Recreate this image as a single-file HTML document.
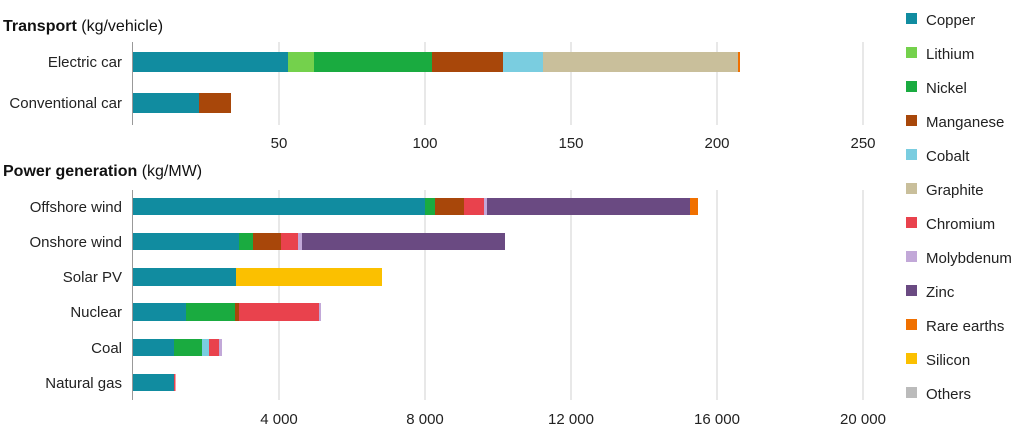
<!DOCTYPE html>
<html><head><meta charset="utf-8"><style>
body{margin:0;background:#fff;}
svg{display:block;font-family:"Liberation Sans",Arial,sans-serif;}
.l{font-size:15px;fill:#222;}
.t{font-size:15px;fill:#222;}
</style></head><body>
<svg width="1024" height="431" viewBox="0 0 1024 431">
<text x="3" y="31" style="font-size:16px" fill="#111"><tspan font-weight="bold">Transport</tspan> (kg/vehicle)</text>
<text x="3" y="176" style="font-size:16px" fill="#111"><tspan font-weight="bold">Power generation</tspan> (kg/MW)</text>
<g stroke="#d0d0d0" stroke-width="1">
<line x1="279" y1="42" x2="279" y2="125"/><line x1="425" y1="42" x2="425" y2="125"/><line x1="571" y1="42" x2="571" y2="125"/><line x1="717" y1="42" x2="717" y2="125"/><line x1="863" y1="42" x2="863" y2="125"/>
<line x1="279" y1="190" x2="279" y2="400"/><line x1="425" y1="190" x2="425" y2="400"/><line x1="571" y1="190" x2="571" y2="400"/><line x1="717" y1="190" x2="717" y2="400"/><line x1="863" y1="190" x2="863" y2="400"/>
</g>
<g stroke="#999"><line x1="132.5" y1="42" x2="132.5" y2="125"/><line x1="132.5" y1="190" x2="132.5" y2="400"/></g>
<g class="t" text-anchor="middle">
<text x="279" y="148">50</text><text x="425" y="148">100</text><text x="571" y="148">150</text><text x="717" y="148">200</text><text x="863" y="148">250</text>
<text x="279" y="424">4 000</text><text x="425" y="424">8 000</text><text x="571" y="424">12 000</text><text x="717" y="424">16 000</text><text x="863" y="424">20 000</text>
</g>
<g class="l" text-anchor="end">
<text x="122" y="67" textLength="0">Electric car</text><text x="122" y="108">Conventional car</text>
<text x="122" y="212">Offshore wind</text><text x="122" y="247">Onshore wind</text><text x="122" y="282">Solar PV</text><text x="122" y="317">Nuclear</text><text x="122" y="353">Coal</text><text x="122" y="388">Natural gas</text>
</g>
<rect x="133" y="52" width="155" height="20" fill="#118ca0"/>
<rect x="288" y="52" width="26" height="20" fill="#74d14c"/>
<rect x="314" y="52" width="118" height="20" fill="#1aab40"/>
<rect x="432" y="52" width="71" height="20" fill="#a8470a"/>
<rect x="503" y="52" width="40" height="20" fill="#7acde0"/>
<rect x="543" y="52" width="195" height="20" fill="#c9bf9b"/>
<rect x="738" y="52" width="2" height="20" fill="#f07000"/>
<rect x="133" y="93" width="66" height="20" fill="#118ca0"/>
<rect x="199" y="93" width="32" height="20" fill="#a8470a"/>
<rect x="133" y="198" width="292" height="17" fill="#118ca0"/>
<rect x="425" y="198" width="10" height="17" fill="#1aab40"/>
<rect x="435" y="198" width="29" height="17" fill="#a8470a"/>
<rect x="464" y="198" width="20" height="17" fill="#e9424d"/>
<rect x="484" y="198" width="3" height="17" fill="#c2a8d8"/>
<rect x="487" y="198" width="203" height="17" fill="#6a4a82"/>
<rect x="690" y="198" width="8" height="17" fill="#f07000"/>
<rect x="133" y="233" width="106" height="17" fill="#118ca0"/>
<rect x="239" y="233" width="14" height="17" fill="#1aab40"/>
<rect x="253" y="233" width="28" height="17" fill="#a8470a"/>
<rect x="281" y="233" width="17" height="17" fill="#e9424d"/>
<rect x="298" y="233" width="4" height="17" fill="#c2a8d8"/>
<rect x="302" y="233" width="203" height="17" fill="#6a4a82"/>
<rect x="133" y="268" width="103" height="18" fill="#118ca0"/>
<rect x="236" y="268" width="146" height="18" fill="#fbc000"/>
<rect x="133" y="303" width="53" height="18" fill="#118ca0"/>
<rect x="186" y="303" width="49" height="18" fill="#1aab40"/>
<rect x="235" y="303" width="4" height="18" fill="#a8470a"/>
<rect x="239" y="303" width="80" height="18" fill="#e9424d"/>
<rect x="319" y="303" width="2" height="18" fill="#c2a8d8"/>
<rect x="133" y="339" width="41" height="17" fill="#118ca0"/>
<rect x="174" y="339" width="28" height="17" fill="#1aab40"/>
<rect x="202" y="339" width="7" height="17" fill="#7acde0"/>
<rect x="209" y="339" width="10" height="17" fill="#e9424d"/>
<rect x="219" y="339" width="3" height="17" fill="#c2a8d8"/>
<rect x="133" y="374" width="41" height="17" fill="#118ca0"/>
<rect x="174" y="374" width="1.5" height="17" fill="#e9424d"/>
<g class="l">
<rect x="906" y="13" width="11" height="11" fill="#118ca0"/><text x="926" y="25">Copper</text>
<rect x="906" y="47" width="11" height="11" fill="#74d14c"/><text x="926" y="59">Lithium</text>
<rect x="906" y="81" width="11" height="11" fill="#1aab40"/><text x="926" y="93">Nickel</text>
<rect x="906" y="115" width="11" height="11" fill="#a8470a"/><text x="926" y="127">Manganese</text>
<rect x="906" y="149" width="11" height="11" fill="#7acde0"/><text x="926" y="161">Cobalt</text>
<rect x="906" y="183" width="11" height="11" fill="#c9bf9b"/><text x="926" y="195">Graphite</text>
<rect x="906" y="217" width="11" height="11" fill="#e9424d"/><text x="926" y="229">Chromium</text>
<rect x="906" y="251" width="11" height="11" fill="#c2a8d8"/><text x="926" y="263">Molybdenum</text>
<rect x="906" y="285" width="11" height="11" fill="#6a4a82"/><text x="926" y="297">Zinc</text>
<rect x="906" y="319" width="11" height="11" fill="#f07000"/><text x="926" y="331">Rare earths</text>
<rect x="906" y="353" width="11" height="11" fill="#fbc000"/><text x="926" y="365">Silicon</text>
<rect x="906" y="387" width="11" height="11" fill="#bbbbbb"/><text x="926" y="399">Others</text>
</g>
</svg>
</body></html>
